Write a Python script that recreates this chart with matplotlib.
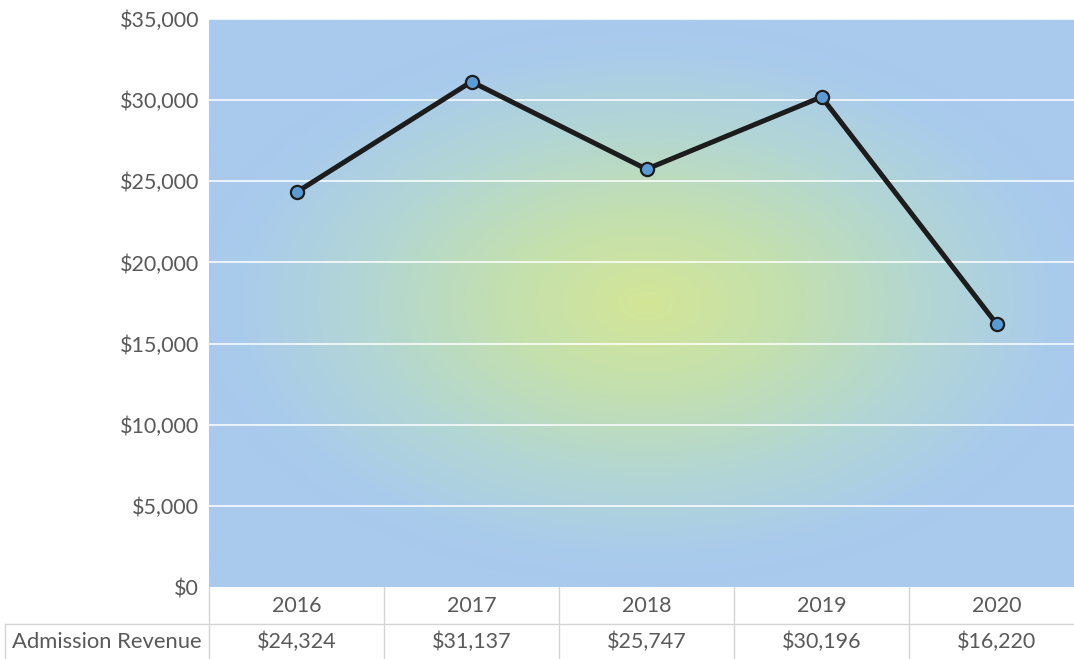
import numpy as np
import matplotlib
matplotlib.use("Agg")
import matplotlib.pyplot as plt
from matplotlib.colors import LinearSegmentedColormap
from matplotlib.ticker import FuncFormatter, MultipleLocator

years = ["2016", "2017", "2018", "2019", "2020"]
revenue = [24324, 31137, 25747, 30196, 16220]
row_label = "Admission Revenue"

plt.rcParams['font.family'] = ['Lato', 'DejaVu Sans']
text_col = "#595959"
W, H = 1074, 659

fig = plt.figure(figsize=(W / 100, H / 100), dpi=100)
fig.patch.set_facecolor("white")

# main plot area, runs a little past the right edge
ax = fig.add_axes([209 / W, 72 / H, 875 / W, 568 / H])
x = np.arange(len(years))
ax.set_xlim(-0.5, len(years) - 0.5)
ax.set_ylim(0, 35000)

# radial background fill: yellow-green centre fading to blue
cmap = LinearSegmentedColormap.from_list(
    "bg", [(0.0, "#d3e596"), (0.3, "#c4e0ae"), (0.62, "#b2d6d4"),
           (0.88, "#aacceb"), (1.0, "#a9c9ed")])
u = np.linspace(-1, 1, 400)
v = np.linspace(-1, 1, 300)
U, V = np.meshgrid(u, v)
R = np.clip(np.sqrt((U / 1.05) ** 2 + V ** 2), 0, 1)
ax.imshow(R, cmap=cmap, extent=(-0.5, len(years) - 0.5, 0, 35000),
          aspect="auto", origin="lower", zorder=0, vmin=0, vmax=1)

ax.yaxis.set_major_locator(MultipleLocator(5000))
ax.yaxis.set_major_formatter(FuncFormatter(lambda v, p: f"${v:,.0f}"))
for yv in np.arange(5000, 35001, 5000):
    ax.axhline(yv, color="white", lw=1.3, alpha=0.85, zorder=1)

ax.plot(x, revenue, color="#1c1c1c", lw=3.6, zorder=3,
        marker="o", markersize=9.5, markerfacecolor="#5b9bd5",
        markeredgecolor="#1c1c1c", markeredgewidth=1.6)

ax.set_xticks([])
ax.tick_params(axis="y", length=0, pad=7, labelsize=15.5, labelcolor=text_col)
for s in ax.spines.values():
    s.set_visible(False)

# data table under the chart
tab = fig.add_axes([209 / W, 0, 875 / W, 72 / H])
tab.set_xlim(-0.5, len(years) - 0.5)
tab.set_ylim(0, 72)
tab.axis("off")
grid_col = "#d4d4d4"
left = (5 - 209) / 175 - 0.5
tab.plot([left, len(years) - 0.5], [35, 35], color=grid_col, lw=1, clip_on=False)
tab.plot([left, left], [0, 35], color=grid_col, lw=1, clip_on=False)
for b in np.arange(-0.5, len(years) - 0.5):
    tab.plot([b, b], [0, 72], color=grid_col, lw=1, clip_on=False)

for i, (yr, rv) in enumerate(zip(years, revenue)):
    tab.text(i, 53.5, yr, ha="center", va="center", fontsize=15.5, color=text_col)
    tab.text(i, 17.5, f"${rv:,}", ha="center", va="center", fontsize=15.5, color=text_col)
tab.text(-0.545, 17.5, row_label, ha="right", va="center", fontsize=15.8,
         color=text_col, clip_on=False)

fig.savefig("out.png", dpi=100, facecolor="white")
